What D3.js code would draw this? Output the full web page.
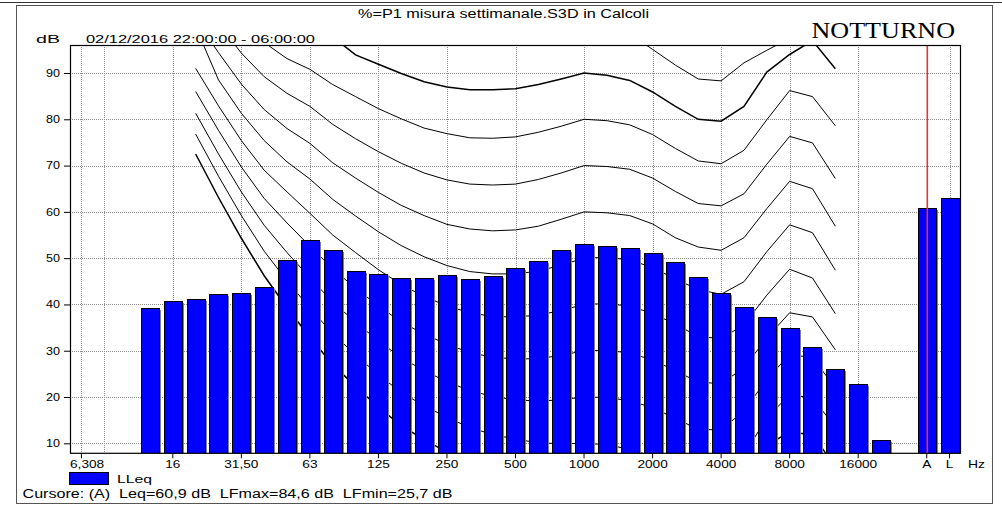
<!DOCTYPE html>
<html>
<head>
<meta charset="utf-8">
<script src="https://cdn.jsdelivr.net/npm/d3@7"></script>
<style>
  html, body { margin: 0; padding: 0; background: #fff; }
  svg { display: block; font-family: "Liberation Sans", Arial, sans-serif; }
</style>
</head>
<body>
<svg id="chart" width="1002" height="505"></svg>
<script>
// Third-octave bands on the x axis, followed by the broadband A and L bars
const bands = ["6.3","8","10","12.5","16","20","25","31.5","40","50","63","80","100","125","160","200","250","315","400","500","630","800","1000","1250","1600","2000","2500","3150","4000","5000","6300","8000","10000","12500","16000","20000","25000","A","L"];

// LLeq spectrum (dB)
const barBands  = ["12.5","16","20","25","31.5","40","50","63","80","100","125","160","200","250","315","400","500","630","800","1000","1250","1600","2000","2500","3150","4000","5000","6300","8000","10000","12500","16000","20000","A","L"];
const barValues = [39.3,40.7,41.15,42.2,42.5,43.8,49.6,53.9,51.7,47.2,46.6,45.75,45.75,46.3,45.5,46.1,47.9,49.35,51.7,53.0,52.6,52.15,51.1,49.1,46.0,42.45,39.4,37.3,35.0,30.9,26.05,22.8,10.7,60.9,63.1];

// Equal-loudness contours (dB at each band, 20 Hz .. 12.5 kHz)
const contourFreqs = ["20","25","31.5","40","50","63","80","100","125","160","200","250","315","400","500","630","800","1000","1250","1600","2000","2500","3150","4000","5000","6300","8000","10000","12500"];
const phon0   = [72.5,63.1,54.3,46.2,39.3,32.9,27.0,22.3,17.8,13.8,10.8,8.1,5.7,3.9,2.5,1.3,0.5,0.0,-0.7,-1.9,-3.5,-5.7,-8.1,-8.3,-1.0,9.5,12.5,11.8,5.0];
const phon10  = [76.8,67.7,59.2,51.5,45.1,39.2,33.7,29.1,24.8,21.0,18.1,15.6,13.4,11.9,10.9,10.1,9.9,10.0,9.7,8.7,7.2,5.0,2.6,2.7,7.5,15.5,20.5,19.8,13.5];
const phon20  = [81.3,72.5,64.3,57.1,51.2,45.8,40.5,36.2,32.1,28.5,25.7,23.3,21.4,20.1,19.4,19.1,19.4,20.0,19.9,19.2,17.7,15.4,13.0,12.9,17.0,23.8,29.2,28.5,22.0];
const phon30  = [86.0,77.6,69.7,62.9,57.6,52.6,47.7,43.5,39.7,36.2,33.6,31.4,29.6,28.6,28.2,28.3,29.0,30.0,30.1,29.5,28.0,25.7,23.2,22.9,26.3,32.8,38.2,37.3,30.2];
const phon40  = [91.0,82.9,75.4,69.0,64.3,59.7,55.0,51.2,47.5,44.3,41.7,39.7,38.2,37.4,37.3,37.7,38.7,40.0,40.2,39.6,38.1,35.7,33.1,32.6,35.6,42.0,47.6,45.7,38.0];
const phon50  = [100.0,88.5,81.3,75.4,70.8,67.1,62.7,59.1,55.7,52.7,50.3,48.4,47.1,46.6,46.6,47.2,48.5,50.0,50.2,49.6,48.0,45.5,43.2,42.2,44.9,51.4,57.2,55.5,47.4];
const phon60  = [101.7,94.4,87.6,82.1,78.0,74.8,70.6,67.3,64.2,61.4,59.2,57.3,56.3,55.9,56.1,56.9,58.4,60.0,59.8,59.2,57.4,54.4,52.4,51.7,54.4,60.7,66.6,65.0,56.9];
const phon70  = [107.6,100.7,94.3,89.2,85.6,82.8,78.9,75.8,73.0,70.5,68.4,66.9,66.0,65.8,66.0,67.0,68.4,70.0,69.8,69.2,67.3,64.4,61.8,61.3,63.9,70.3,76.3,74.9,67.2];
const phon80  = [113.7,107.3,101.3,96.6,93.1,90.8,87.5,84.9,82.3,80.1,78.1,76.9,76.0,75.9,76.2,77.2,78.5,80.0,79.7,78.8,76.7,73.7,71.0,70.4,73.3,79.9,86.2,84.9,78.6];
const phon90  = [120.3,114.4,108.7,104.4,101.0,99.8,97.8,93.9,91.9,89.9,88.1,87.0,86.4,86.4,86.6,87.5,88.7,90.0,89.5,88.4,85.9,82.8,80.0,79.6,82.8,90.2,94.0,97.0,90.9];
const phon100 = [127.2,121.0,116.6,112.6,110.0,108.9,105.6,103.6,101.8,100.1,98.7,97.8,97.2,97.3,97.4,98.1,99.0,100.0,99.3,98.5,95.1,91.7,88.7,88.3,92.2,94.9,97.5,102.0,101.0];
const contourLevels = [0,10,20,30,40,50,60,70,80,90,100];
const boldLevels = [0,90];

// Axis ticks and labels
const yTicks = [10,20,30,40,50,60,70,80,90];
const gridBands = ["6.3","8","16","31.5","63","125","250","500","1000","2000","4000","8000","16000","L"];
const xLabelBands = ["6.3","16","31.5","63","125","250","500","1000","2000","4000","8000","16000","A","L"];
const xLabelTexts = ["6,308","16","31,50","63","125","250","500","1000","2000","4000","8000","16000","A","L"];

// Texts
const titleText  = "%=P1 misura settimanale.S3D in Calcoli";
const unitText   = "dB";
const periodText = "02/12/2016 22:00:00 - 06:00:00";
const tagText    = "NOTTURNO";
const seriesName = "LLeq";
const cursorText = "Cursore: (A)  Leq=60,9 dB  LFmax=84,6 dB  LFmin=25,7 dB";
const cursorBand = "A";
const freqUnit   = "Hz";

const svg = d3.select("#chart");
const plot = { left: 70, right: 961, top: 45, bottom: 453.3 };

const x = d3.scaleBand().domain(bands).range([plot.left, plot.right])
  .paddingInner(0.21).paddingOuter(0.105);
const cx = b => x(b) + x.bandwidth() / 2;
const y = d3.scaleLinear().domain([7.84, 96.05]).range([plot.bottom, plot.top]);

function stretch(sel, factor) {
  sel.each(function () {
    const w = this.getComputedTextLength();
    d3.select(this).attr("textLength", w * factor).attr("lengthAdjust", "spacingAndGlyphs");
  });
}

// outer panel
svg.append("line").attr("x1", 0).attr("x2", 1002).attr("y1", 2.5).attr("y2", 2.5)
  .attr("stroke", "#333").attr("stroke-width", 1);
svg.append("rect").attr("x", 16.5).attr("y", 5.5).attr("width", 976).attr("height", 498)
  .attr("fill", "none").attr("stroke", "#555").attr("stroke-width", 1);

svg.append("defs").append("clipPath").attr("id", "plotClip").append("rect")
  .attr("x", plot.left).attr("y", plot.top)
  .attr("width", plot.right - plot.left).attr("height", plot.bottom - plot.top);

// grid
const grid = svg.append("g").attr("stroke", "#8c8c8c").attr("stroke-dasharray", "1,1")
  .attr("shape-rendering", "crispEdges");
grid.selectAll("line.h").data(yTicks).join("line").attr("class", "h")
  .attr("x1", plot.left).attr("x2", plot.right)
  .attr("y1", d => Math.round(y(d)) + 0.5).attr("y2", d => Math.round(y(d)) + 0.5);
grid.selectAll("line.v").data(gridBands).join("line").attr("class", "v")
  .attr("x1", d => Math.round(cx(d)) + 0.5).attr("x2", d => Math.round(cx(d)) + 0.5)
  .attr("y1", plot.top).attr("y2", plot.bottom);

// contours
const contourSeries = [phon0, phon10, phon20, phon30, phon40, phon50, phon60, phon70, phon80, phon90, phon100];
const line = d3.line().x((d, i) => cx(contourFreqs[i])).y(d => y(d));
svg.append("g").attr("clip-path", "url(#plotClip)")
  .selectAll("path").data(contourSeries).join("path")
  .attr("d", line)
  .attr("fill", "none").attr("stroke", "#000")
  .attr("stroke-width", (d, i) => boldLevels.includes(contourLevels[i]) ? 1.5 : 1);

// bars
const barData = barBands.map((b, i) => ({ band: b, value: barValues[i] }));
const bars = svg.append("g").attr("clip-path", "url(#plotClip)").attr("shape-rendering", "crispEdges");
bars.selectAll("rect.shadow").data(barData).join("rect").attr("class", "shadow")
  .attr("x", d => Math.round(x(d.band)) + 1.5).attr("y", d => Math.round(y(d.value)) + 1.5)
  .attr("width", Math.round(x.bandwidth())).attr("height", d => plot.bottom - y(d.value))
  .attr("fill", "#808080");
bars.selectAll("rect.bar").data(barData).join("rect").attr("class", "bar")
  .attr("x", d => Math.round(x(d.band)) + 0.5).attr("y", d => Math.round(y(d.value)) + 0.5)
  .attr("width", Math.round(x.bandwidth())).attr("height", d => plot.bottom + 1 - Math.round(y(d.value)))
  .attr("fill", "#0000ff").attr("stroke", "#000").attr("stroke-width", 1);

// cursor marker on the A band
const cursorX = Math.round(cx(cursorBand));
svg.append("rect").attr("x", cursorX - 0.5).attr("y", plot.top)
  .attr("width", 1.6).attr("height", plot.bottom - plot.top)
  .attr("fill", "#ee3333");

// plot frame
svg.append("rect").attr("x", plot.left + 0.5).attr("y", plot.top + 0.5)
  .attr("width", plot.right - plot.left - 1).attr("height", plot.bottom - plot.top - 0.5)
  .attr("fill", "none").attr("stroke", "#000").attr("stroke-width", 1.2);

// y axis
const yAxis = svg.append("g").attr("transform", `translate(${plot.left},0)`)
  .call(d3.axisLeft(y).tickValues(yTicks).tickSize(6).tickPadding(4).tickFormat(d3.format("d")));
yAxis.select(".domain").remove();
yAxis.selectAll(".tick line").attr("stroke", "#000");
yAxis.selectAll("text").attr("font-size", 10.5).attr("fill", "#000").attr("font-family", null);
stretch(yAxis.selectAll("text"), 1.2);

// x axis
const xAxis = svg.append("g").attr("transform", `translate(0,${plot.bottom})`)
  .call(d3.axisBottom(x).tickValues(xLabelBands).tickSize(5).tickPadding(2)
    .tickFormat(d => xLabelTexts[xLabelBands.indexOf(d)]));
xAxis.select(".domain").remove();
xAxis.selectAll(".tick line").attr("stroke", "#000");
xAxis.selectAll("text").attr("font-size", 10.5).attr("fill", "#000").attr("font-family", null);
stretch(xAxis.selectAll("text"), 1.3);
xAxis.selectAll(".tick").filter(d => d === xLabelBands[0]).select("text")
  .attr("text-anchor", "start").attr("x", plot.left - cx(xLabelBands[0]));
svg.append("text").attr("x", 968).attr("y", 467.7).attr("font-size", 10.5)
  .attr("textLength", 17).attr("lengthAdjust", "spacingAndGlyphs").text(freqUnit);

// header texts
svg.append("text").attr("x", 358).attr("y", 18).attr("font-size", 12)
  .attr("textLength", 291).attr("lengthAdjust", "spacingAndGlyphs").text(titleText);
svg.append("text").attr("x", 36).attr("y", 42.7).attr("font-size", 10)
  .attr("textLength", 24).attr("lengthAdjust", "spacingAndGlyphs").text(unitText);
svg.append("text").attr("x", 86).attr("y", 42.7).attr("font-size", 10)
  .attr("textLength", 229).attr("lengthAdjust", "spacingAndGlyphs").text(periodText);
svg.append("text").attr("x", 811.5).attr("y", 37.5).attr("font-size", 24)
  .attr("font-family", "'Liberation Serif', 'Times New Roman', serif")
  .attr("textLength", 143.5).attr("lengthAdjust", "spacingAndGlyphs").text(tagText);

// legend and cursor read-out
svg.append("rect").attr("x", 69.5).attr("y", 472.5).attr("width", 39).attr("height", 12)
  .attr("fill", "#0000ff").attr("stroke", "#000");
svg.append("text").attr("x", 117).attr("y", 483).attr("font-size", 11.5)
  .attr("textLength", 35).attr("lengthAdjust", "spacingAndGlyphs").text(seriesName);
svg.append("text").attr("x", 22.5).attr("y", 497.5).attr("font-size", 12)
  .style("white-space", "pre")
  .attr("textLength", 430).attr("lengthAdjust", "spacingAndGlyphs").text(cursorText);
</script>
</body>
</html>
